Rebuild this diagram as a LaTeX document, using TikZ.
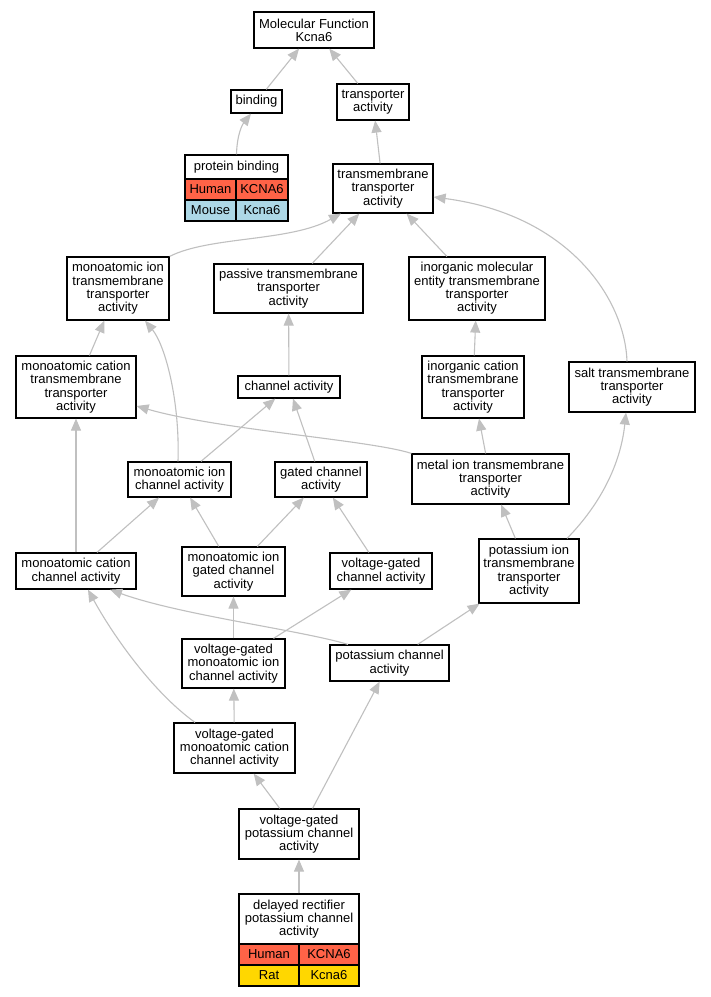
\documentclass[tikz,border=0pt]{standalone}
\usepackage{fontspec}
\setmainfont{Liberation Sans}
\usetikzlibrary{arrows.meta}
\definecolor{edgegray}{HTML}{C0C0C0}
\definecolor{tomatoc}{HTML}{FF6347}
\definecolor{bluec}{HTML}{ADD8E6}
\definecolor{goldc}{HTML}{FFD700}
\begin{document}
\begin{tikzpicture}[x=1pt,y=-1pt,
  box/.style={draw=black,line width=1.2pt,fill=white,inner sep=0pt,align=center,font=\fontsize{13}{13.3}\selectfont},
  cell/.style={draw=black,line width=1.2pt,inner sep=0pt,font=\fontsize{13}{13.3}\selectfont},
  edge/.style={draw=edgegray,line width=1.1pt,-{Triangle[length=12pt,width=10pt]}},
]
\useasboundingbox (0,0) rectangle (711,997);
\fill[white] (0,0) rectangle (711,997);

% nodes
\node[box,minimum width=120pt,minimum height=36pt] (mf) at (314,30) {Molecular Function\\Kcna6};
\node[box,minimum width=51pt,minimum height=23pt] (bind) at (256.5,101.5) {binding};
\node[box,minimum width=72pt,minimum height=36pt] (trans) at (373,102) {transporter\\activity};
% protein binding table
\node[box,minimum width=103pt,minimum height=24pt] (pbt) at (236.5,167) {protein binding};
\node[cell,fill=tomatoc,minimum width=51pt,minimum height=21pt] (pbh) at (210.5,189.5) {Human};
\node[cell,fill=tomatoc,minimum width=52pt,minimum height=21pt] (pbhg) at (262,189.5) {KCNA6};
\node[cell,fill=bluec,minimum width=51pt,minimum height=21pt] (pbm) at (210.5,210.5) {Mouse};
\node[cell,fill=bluec,minimum width=52pt,minimum height=21pt] (pbmg) at (262,210.5) {Kcna6};

\node[box,minimum width=100pt,minimum height=49pt] (tm) at (383,188.5) {transmembrane\\transporter\\activity};
\node[box,minimum width=102pt,minimum height=63pt] (mitm) at (118,288.5) {monoatomic ion\\transmembrane\\transporter\\activity};
\node[box,minimum width=149pt,minimum height=49pt] (passive) at (288.5,288.5) {passive transmembrane\\transporter\\activity};
\node[box,minimum width=136pt,minimum height=63pt] (ime) at (477,288.5) {inorganic molecular\\entity transmembrane\\transporter\\activity};
\node[box,minimum width=120pt,minimum height=62pt] (mctm) at (76,387) {monoatomic cation\\transmembrane\\transporter\\activity};
\node[box,minimum width=102pt,minimum height=22pt] (chan) at (289,387) {channel activity};
\node[box,minimum width=102pt,minimum height=62pt] (ic) at (473,387) {inorganic cation\\transmembrane\\transporter\\activity};
\node[box,minimum width=126pt,minimum height=50pt] (salt) at (632,387) {salt transmembrane\\transporter\\activity};
\node[box,minimum width=103pt,minimum height=35pt] (mic) at (179.5,479.5) {monoatomic ion\\channel activity};
\node[box,minimum width=92pt,minimum height=35pt] (gated) at (321,479.5) {gated channel\\activity};
\node[box,minimum width=157pt,minimum height=50pt] (metal) at (490.5,479) {metal ion transmembrane\\transporter\\activity};
\node[box,minimum width=120pt,minimum height=36pt] (mcc) at (76,571) {monoatomic cation\\channel activity};
\node[box,minimum width=103pt,minimum height=49pt] (mig) at (233.5,571.5) {monoatomic ion\\gated channel\\activity};
\node[box,minimum width=102pt,minimum height=36pt] (vgc) at (381,571) {voltage-gated\\channel activity};
\node[box,minimum width=100pt,minimum height=64pt] (ktm) at (529,571) {potassium ion\\transmembrane\\transporter\\activity};
\node[box,minimum width=103pt,minimum height=49pt] (vgmi) at (233.5,663.5) {voltage-gated\\monoatomic ion\\channel activity};
\node[box,minimum width=119pt,minimum height=36pt] (kc) at (389.5,663) {potassium channel\\activity};
\node[box,minimum width=121pt,minimum height=50pt] (vgmc) at (234.5,748) {voltage-gated\\monoatomic cation\\channel activity};
\node[box,minimum width=120pt,minimum height=50pt] (vgk) at (299,834) {voltage-gated\\potassium channel\\activity};
% delayed rectifier table
\node[box,minimum width=120pt,minimum height=50pt] (drt) at (299,919) {delayed rectifier\\potassium channel\\activity};
\node[cell,fill=tomatoc,minimum width=60pt,minimum height=21pt] (drh) at (269,954.5) {Human};
\node[cell,fill=tomatoc,minimum width=60pt,minimum height=21pt] (drhg) at (329,954.5) {KCNA6};
\node[cell,fill=goldc,minimum width=60pt,minimum height=21pt] (drr) at (269,975.5) {Rat};
\node[cell,fill=goldc,minimum width=60pt,minimum height=21pt] (drrg) at (329,975.5) {Kcna6};

% straight edges
\draw[edge] (bind) -- (mf);
\draw[edge] (trans) -- (mf);
\draw[edge] (tm) -- (trans);
\draw[edge] (passive) -- (tm);
\draw[edge] (ime) -- (tm);
\draw[edge] (mctm) -- (mitm);
\draw[edge] (chan) -- (passive);
\draw[edge] (ic) -- (ime);
\draw[edge] (mic) -- (chan);
\draw[edge] (gated) -- (chan);
\draw[edge] (metal) -- (ic);
\draw[edge] (mcc) -- (mctm);
\draw[edge] (mcc) -- (mic);
\draw[edge] (mig) -- (mic);
\draw[edge] (mig) -- (gated);
\draw[edge] (vgc) -- (gated);
\draw[edge] (ktm) -- (metal);
\draw[edge] (vgmi) -- (mig);
\draw[edge] (vgmi) -- (vgc);
\draw[edge] (kc) -- (ktm);
\draw[edge] (vgmc) -- (vgmi);
\draw[edge] (vgk) -- (vgmc);
\draw[edge] (vgk) -- (kc);
\draw[edge] (drt) -- (vgk);

% curved edges
\draw[edge] (pbt.north) .. controls (237,135) and (242,125) .. ([xshift=-5.5pt]bind.south);
\draw[edge] (mitm.north east) .. controls (210,236) and (290,242) .. ([xshift=-42pt]tm.south);
\draw[edge] ([xshift=-5pt]salt.north) .. controls (625,300) and (570,215) .. ([yshift=-8.5pt]tm.east);
\draw[edge] ([xshift=-1.5pt]mic.north) .. controls (180,400) and (165,345) .. ([xshift=27pt]mitm.south);
\draw[edge] (metal.north west) .. controls (370,440) and (220,430) .. ([yshift=-19pt]mctm.east);
\draw[edge] ([xshift=38pt]ktm.north) .. controls (595,510) and (620,470) .. ([xshift=-6pt]salt.south);
\draw[edge] ([xshift=-41.5pt]kc.north) .. controls (300,630) and (180,615) .. ([xshift=34pt]mcc.south);
\draw[edge] ([xshift=-39.5pt]vgmc.north) .. controls (150,690) and (110,630) .. ([xshift=12pt]mcc.south);
\end{tikzpicture}
\end{document}
